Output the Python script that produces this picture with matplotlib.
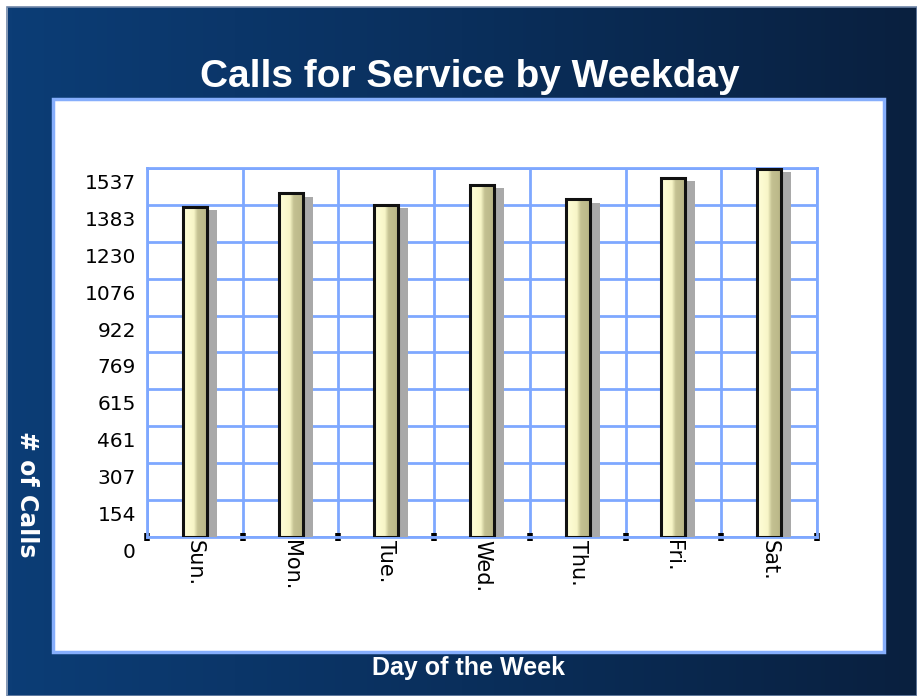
import numpy as np
import matplotlib
matplotlib.use("Agg")
import matplotlib.pyplot as plt
from matplotlib.patches import Rectangle
from matplotlib.transforms import ScaledTranslation
from matplotlib.colors import LinearSegmentedColormap

# ---- data ----
days = ["Sun.", "Mon.", "Tue.", "Wed.", "Thu.", "Fri.", "Sat."]
calls = [1375, 1432, 1383, 1467, 1407, 1497, 1533]
ytick_values = [0, 154, 307, 461, 615, 769, 922, 1076, 1230, 1383, 1537]
ytick_labels = ["0", "154", "307", "461", "615", "769", "922", "1076", "1230", "1383", "1537"]
title = "Calls for Service by Weekday"
xlabel = "Day of the Week"
ylabel = "# of Calls"

W, H = 917, 696
fig = plt.figure(figsize=(W / 100, H / 100), dpi=100)

# ---- background ----
bg = fig.add_axes([0, 0, 1, 1])
bg.set_xlim(0, W)
bg.set_ylim(H, 0)
bg.axis("off")
bg.add_patch(Rectangle((0, 0), W, H, facecolor="white", edgecolor="none"))
grad_cmap = LinearSegmentedColormap.from_list("bgc", ["#0c3d76", "#0a2f5c", "#09203f"])
gradient = np.linspace(0, 1, 256).reshape(1, -1)
bg.imshow(gradient, cmap=grad_cmap, extent=(8, W, H, 7), aspect="auto", zorder=1)
bg.add_patch(Rectangle((7, 7), W - 7, H - 7, facecolor="none", edgecolor="#6f86a8", lw=1.2, zorder=2))
bg.add_patch(Rectangle((53, 99), 884 - 53, 652 - 99, facecolor="white",
                       edgecolor="#86aefc", lw=2.5, zorder=3))

bg.text(470, 77, title, color="white", fontsize=28, fontweight="bold",
        family="Liberation Sans", ha="center", va="center", zorder=5)
bg.text(469, 668, xlabel, color="white", fontsize=18, fontweight="bold",
        family="Liberation Sans", ha="center", va="center", zorder=5)
bg.text(27, 494, ylabel, color="white", fontsize=17, fontweight="bold",
        family="DejaVu Sans", ha="center", va="center", rotation=-90, zorder=5)

# ---- main axes ----
left, right, top, bottom = 147, 817, 168, 537
ax = fig.add_axes([left / W, (H - bottom) / H, (right - left) / W, (bottom - top) / H])
ax.set_facecolor("none")

x = np.arange(len(days))
bw = 0.25
grid_c = "#7ea8ff"

# shadows
shadows = ax.bar(x, calls, width=bw, color="#a9a9a9", edgecolor="none", zorder=2)
for p in shadows:
    p.set_transform(ax.transData + ScaledTranslation(0.10, -0.035, fig.dpi_scale_trans))

# gradient bar fills
bar_cmap = LinearSegmentedColormap.from_list(
    "barc", [(0, "#fffed8"), (0.45, "#f8f6c8"), (0.62, "#c4c192"), (1.0, "#b9b687")])
bgrad = np.linspace(0, 1, 64).reshape(1, -1)
for xi, v in zip(x, calls):
    ax.imshow(bgrad, cmap=bar_cmap, extent=(xi - bw / 2, xi + bw / 2, 0, v),
              aspect="auto", zorder=3, interpolation="bilinear")
ax.bar(x, calls, width=bw, facecolor="none", edgecolor="#111111", lw=2.2, zorder=4)

ax.set_xlim(-0.5, len(days) - 0.5)
ax.set_ylim(0, 1537)

ax.set_xticks(x)
ax.set_xticklabels(days, rotation=-90, fontsize=15, family="DejaVu Sans", va="top", ha="center")
ax.tick_params(axis="x", which="major", length=0, pad=2)
ax.set_xticks(np.arange(-0.5, len(days)), minor=True)
ax.tick_params(axis="x", which="minor", length=6, width=4, color="black", direction="inout")

ax.tick_params(axis="y", length=0, pad=8)
ax.set_yticks(ytick_values)
ax.set_yticklabels(ytick_labels, fontsize=14.5, family="DejaVu Sans", va="top")
for lab in ax.get_yticklabels():
    lab.set_transform(lab.get_transform() + ScaledTranslation(0, -0.06, fig.dpi_scale_trans))

ax.grid(True, axis="y", which="major", color=grid_c, lw=2, zorder=1)
ax.grid(True, axis="x", which="minor", color=grid_c, lw=2, zorder=1)
ax.set_axisbelow(True)
for s in ax.spines.values():
    s.set_color(grid_c)
    s.set_linewidth(2)
    s.set_zorder(1.5)

fig.savefig("out.png", dpi=100)
